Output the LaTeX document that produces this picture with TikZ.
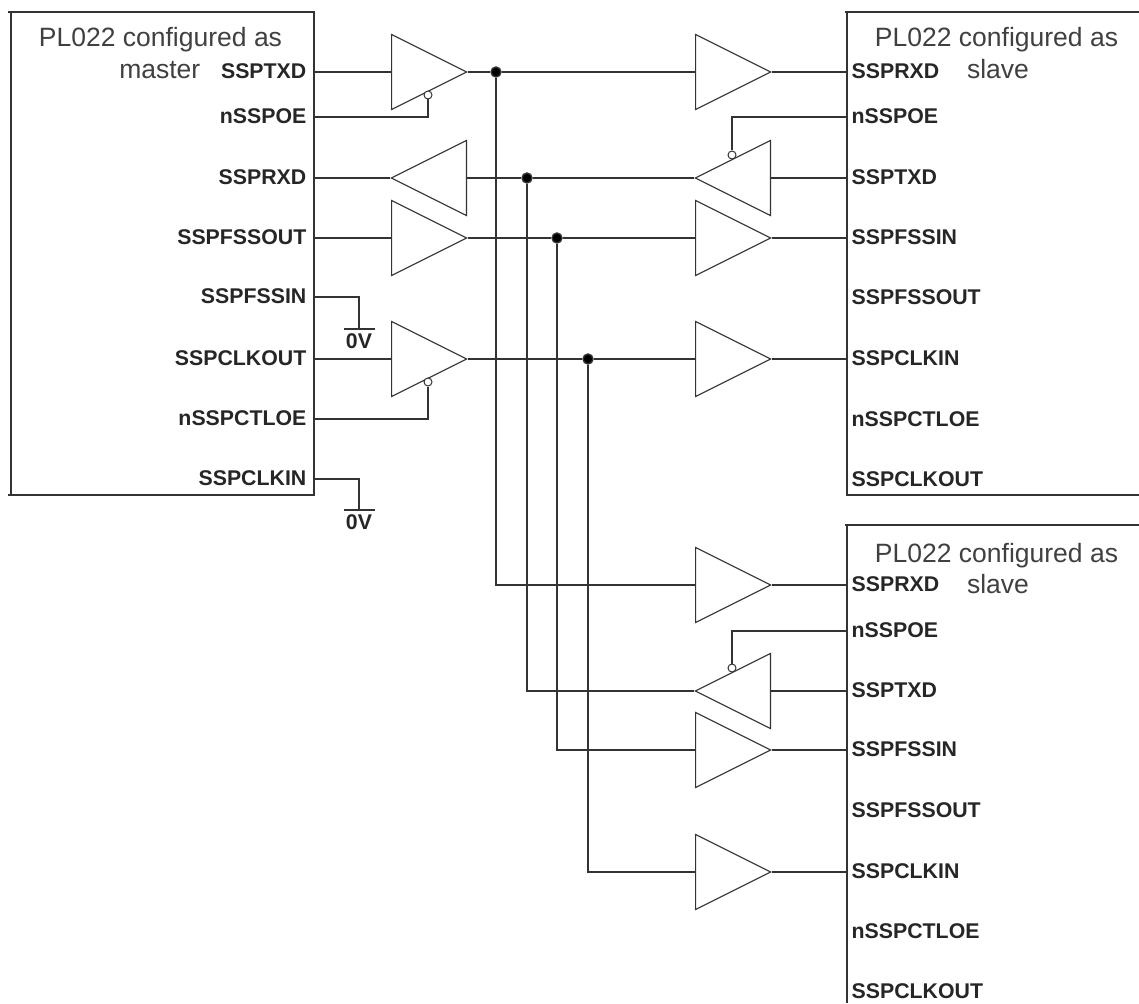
\documentclass[tikz,border=0pt]{standalone}
\usepackage{fontspec}
\setmainfont{Liberation Sans}
\usetikzlibrary{shapes.geometric, positioning}

\begin{document}
\begin{tikzpicture}[
        x=1pt,
        y=-1pt,
        every path/.style={line width=1.4pt, color=black!80},
        every node/.style={text=black!85},
        title/.style={font=\fontsize{26.5}{30}\selectfont, inner sep=0pt, text=black!75, text height=19pt, text depth=5.5pt},
        pinl/.style={anchor=east, inner ysep=0pt, inner xsep=7pt, font=\fontsize{21.3}{26}\bfseries\selectfont, text height=15.5pt, text depth=2pt},
        pinr/.style={anchor=west, inner ysep=0pt, inner xsep=4pt, font=\fontsize{21.3}{26}\bfseries\selectfont, text height=15.5pt, text depth=2pt},
        fwd/.style={draw, line width=1.1pt, isosceles triangle, isosceles triangle stretches, anchor=lower side, minimum width=75pt, minimum height=75pt, inner sep=0pt},
        rev/.style={fwd, shape border rotate=180},
        inv/.style={draw, circle, line width=1pt, fill=white, minimum size=8pt, inner sep=0pt},
        junc/.style={draw, circle, fill=black, minimum size=10pt, inner sep=0pt},
        gnd/.style={font=\fontsize{21.3}{24}\bfseries\selectfont, inner sep=0pt, text height=15.5pt, text depth=0pt, anchor=north}
    ]
        \useasboundingbox (0,0) rectangle (1139,1003);

        % boxes
        \draw (8,12) -- (314,12) -- (314,495) -- (8,495) (11,12) -- (11,495);
        \draw (1139,12) -- (845,12) (847,12) -- (847,495) -- (1139,495);
        \draw (1139,525) -- (845,525) (847,525) -- (847,1003);

        \node[title] at (160.5,40.25) {PL022 configured as};
        \node[title, anchor=east] at (201,72.25) {master};
        \node[title] at (996.5,40.25) {PL022 configured as};
        \node[title] at (998,72.25) {slave};
        \node[title] at (996.5,555.25) {PL022 configured as};
        \node[title] at (998,586.25) {slave};

        % master pins
        \node[pinl] (mtxd) at (314,72) {SSPTXD};
        \node[pinl] (moe) at (314,117) {nSSPOE};
        \node[pinl] (mrxd) at (314,178) {SSPRXD};
        \node[pinl] (mfsout) at (314,238) {SSPFSSOUT};
        \node[pinl] (mfsin) at (314,297) {SSPFSSIN};
        \node[pinl] (mclkout) at (314,359) {SSPCLKOUT};
        \node[pinl] (mctl) at (314,419) {nSSPCTLOE};
        \node[pinl] (mclkin) at (314,479) {SSPCLKIN};

        % first slave pins
        \node[pinr] (arxd) at (847,72) {SSPRXD};
        \node[pinr] (aoe) at (847,117) {nSSPOE};
        \node[pinr] (atxd) at (847,178) {SSPTXD};
        \node[pinr] (afsin) at (847,238) {SSPFSSIN};
        \node[pinr] (afsout) at (847,298) {SSPFSSOUT};
        \node[pinr] (aclkin) at (847,359) {SSPCLKIN};
        \node[pinr] (actl) at (847,420) {nSSPCTLOE};
        \node[pinr] (aclkout) at (847,480) {SSPCLKOUT};

        % second slave pins
        \node[pinr] (brxd) at (847,585) {SSPRXD};
        \node[pinr] (boe) at (847,631) {nSSPOE};
        \node[pinr] (btxd) at (847,691) {SSPTXD};
        \node[pinr] (bfsin) at (847,750) {SSPFSSIN};
        \node[pinr] (bfsout) at (847,811) {SSPFSSOUT};
        \node[pinr] (bclkin) at (847,872) {SSPCLKIN};
        \node[pinr] (bctl) at (847,932) {nSSPCTLOE};
        \node[pinr] (bclkout) at (847,992) {SSPCLKOUT};

        % buffers
        \node[fwd] (m1) at (391,72) {};
        \node[rev] (m2) at (467,178) {};
        \node[fwd] (m3) at (391,238) {};
        \node[fwd] (m4) at (391,359) {};
        \node[fwd] (a1) at (695,72) {};
        \node[rev] (a2) at (771,178) {};
        \node[fwd] (a3) at (695,238) {};
        \node[fwd] (a4) at (695,359) {};
        \node[fwd] (b1) at (695,585) {};
        \node[rev] (b2) at (771,691) {};
        \node[fwd] (b3) at (695,750) {};
        \node[fwd] (b4) at (695,872) {};

        \node[inv] (i1) at (428,95) {};
        \node[inv] (i4) at (428,382) {};
        \node[inv] (i2) at (732,155) {};
        \node[inv] (i3) at (732,668) {};

        % junctions
        \node[junc] (j1) at (496,72) {};
        \node[junc] (j2) at (527,178) {};
        \node[junc] (j3) at (557,238) {};
        \node[junc] (j4) at (588,359) {};

        % grounds
        \coordinate (g1) at (359,329);
        \coordinate (g2) at (359,510);
        \draw (344,329) -- (g1) -- (375,329);
        \draw (344,510) -- (g2) -- (375,510);
        \node[gnd] (v1) at (359,332) {0V};
        \node[gnd] (v2) at (359,513) {0V};
        \draw (mfsin.east) -| (g1);
        \draw (mclkin.east) -| (g2);

        % wires
        \draw (mtxd.east) -- (m1.lower side);
        \draw (mrxd.east) -- (m2.apex);
        \draw (mfsout.east) -- (m3.lower side);
        \draw (mclkout.east) -- (m4.lower side);
        \draw (moe.east) -| (i1.south);
        \draw (mctl.east) -| (i4.south);
        \draw (aoe.west) -| (i2.north);
        \draw (boe.west) -| (i3.north);

        \draw (m1.apex) -- (j1) -- (a1.lower side);
        \draw (m2.lower side) -- (j2) -- (a2.apex);
        \draw (m3.apex) -- (j3) -- (a3.lower side);
        \draw (m4.apex) -- (j4) -- (a4.lower side);

        \draw (a1.apex) -- (arxd.west);
        \draw (a2.lower side) -- (atxd.west);
        \draw (a3.apex) -- (afsin.west);
        \draw (a4.apex) -- (aclkin.west);

        \draw (j1) |- (b1.lower side);
        \draw (j2) |- (b2.apex);
        \draw (j3) |- (b3.lower side);
        \draw (j4) |- (b4.lower side);

        \draw (b1.apex) -- (brxd.west);
        \draw (b2.lower side) -- (btxd.west);
        \draw (b3.apex) -- (bfsin.west);
        \draw (b4.apex) -- (bclkin.west);
\end{tikzpicture}
\end{document}
